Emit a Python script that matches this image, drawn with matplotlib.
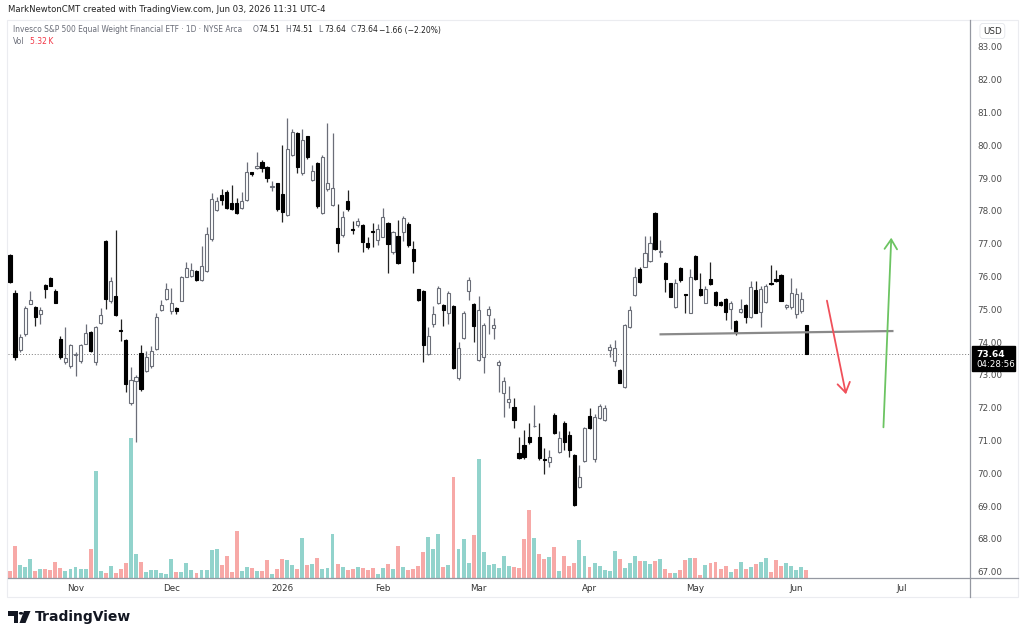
import numpy as np
import pandas as pd
import matplotlib
matplotlib.use('Agg')
import matplotlib.pyplot as plt
import matplotlib.transforms as mtransforms
from matplotlib.patches import Rectangle, Polygon, Circle
from matplotlib.lines import Line2D

plt.rcParams['font.family'] = ['DejaVu Sans']

# trading calendar (NYSE holidays in the window)
holidays = ['2025-11-27', '2025-12-25', '2026-01-01', '2026-01-19', '2026-02-16',
            '2026-04-03', '2026-05-25', '2026-06-19', '2026-07-03']
bday = pd.offsets.CustomBusinessDay(holidays=holidays)
dates = pd.date_range('2025-10-15', periods=200, freq=bday)

opens = [76.65, 75.50, 73.75, 74.25, 75.17, 75.08, 74.85, 75.74, 75.96, 75.57,
         74.10, 73.40, 73.27, 73.62, 73.42, 73.95, 74.30, 73.40, 74.60, 77.10,
         75.25, 75.42, 74.37, 74.08, 72.16, 72.83, 73.67, 73.13, 73.26, 73.79,
         74.98, 75.31, 74.95, 75.05, 75.27, 76.00, 76.02, 76.17, 75.90, 76.17,
         77.14, 78.03, 78.49, 78.59, 78.23, 78.23, 78.08, 78.34, 79.18, 79.30,
         79.50, 79.35, 78.74, 78.84, 78.53, 77.88, 79.71, 80.37, 79.15, 80.29,
         78.95, 79.47, 77.95, 78.66, 78.18, 77.47, 77.27, 78.30, 77.43, 77.57,
         77.57, 77.03, 77.37, 77.12, 77.22, 77.62, 76.76, 77.24, 77.37, 77.60,
         76.83, 75.61, 75.56, 73.64, 74.55, 75.19, 75.13, 74.88, 75.09, 72.90,
         74.12, 75.56, 75.16, 73.45, 73.56, 74.83, 74.43, 73.31, 72.46, 72.17,
         72.02, 70.61, 70.86, 71.10, 71.43, 71.10, 70.44, 70.36, 71.77, 70.66,
         71.53, 71.17, 70.55, 69.60, 70.39, 71.75, 70.45, 71.68, 71.63, 73.76,
         73.43, 73.15, 72.62, 74.46, 75.44, 76.22, 76.30, 76.48, 77.95, 76.75,
         76.42, 75.79, 75.06, 76.27, 75.45, 74.90, 76.63, 75.61, 75.20, 75.92,
         75.54, 75.23, 75.33, 75.00, 74.66, 74.92, 75.13, 74.76, 75.59, 74.93,
         75.23, 75.78, 75.94, 76.05, 75.06, 75.06, 74.86, 74.96, 74.51]
highs = [76.70, 75.60, 74.25, 75.10, 75.55, 75.10, 75.07, 75.76, 76.00, 75.62,
         74.20, 74.45, 73.95, 73.70, 73.95, 74.55, 74.35, 74.50, 75.05, 77.12,
         76.00, 77.42, 74.70, 74.10, 73.25, 73.00, 73.90, 73.73, 73.88, 74.90,
         75.30, 75.80, 75.66, 75.07, 76.02, 76.45, 76.40, 76.20, 76.93, 77.52,
         78.56, 78.44, 78.67, 78.65, 78.80, 78.40, 78.59, 79.50, 79.20, 79.80,
         79.55, 79.38, 78.90, 78.86, 80.00, 80.83, 80.50, 80.40, 80.50, 80.30,
         79.40, 79.50, 79.70, 80.68, 80.37, 78.21, 78.00, 78.64, 77.70, 77.80,
         77.60, 77.20, 77.64, 77.60, 78.08, 77.65, 77.40, 77.73, 77.85, 77.65,
         77.10, 75.62, 75.58, 74.47, 75.09, 75.72, 75.15, 75.55, 75.12, 74.00,
         74.95, 75.98, 75.20, 75.41, 74.60, 75.10, 74.73, 73.45, 72.95, 72.66,
         72.30, 71.12, 71.33, 71.53, 72.08, 71.53, 70.76, 70.70, 71.85, 71.30,
         71.60, 71.30, 70.60, 70.25, 71.40, 72.00, 71.80, 72.12, 72.10, 73.96,
         74.06, 73.18, 74.55, 75.09, 76.30, 76.30, 77.24, 77.24, 77.98, 77.11,
         76.45, 75.80, 75.92, 76.30, 75.46, 76.23, 76.65, 76.10, 75.72, 76.46,
         75.56, 75.25, 75.36, 75.25, 74.68, 75.31, 75.15, 75.88, 75.88, 75.70,
         75.76, 76.35, 76.20, 76.08, 75.16, 75.95, 75.65, 75.54, 74.51]
lows = [75.80, 73.45, 73.70, 74.20, 75.15, 74.50, 74.55, 75.35, 75.70, 75.18,
        73.50, 73.35, 73.20, 72.97, 73.38, 73.93, 73.70, 73.30, 74.55, 75.00,
        75.20, 74.80, 74.03, 72.48, 72.10, 70.95, 72.50, 73.10, 73.20, 73.75,
        74.95, 75.28, 74.85, 74.85, 75.25, 75.98, 75.98, 75.88, 75.88, 76.15,
        77.10, 78.00, 78.18, 78.05, 78.02, 77.92, 78.05, 78.30, 79.08, 79.28,
        79.20, 78.88, 78.62, 78.00, 77.67, 77.85, 79.68, 79.17, 79.10, 79.60,
        78.90, 78.10, 77.90, 78.60, 78.15, 76.76, 77.22, 78.00, 77.30, 77.52,
        76.76, 76.85, 76.91, 76.95, 77.20, 76.10, 76.70, 76.38, 77.10, 76.90,
        76.10, 75.27, 73.41, 73.60, 74.45, 75.15, 74.49, 74.55, 73.18, 72.85,
        74.10, 75.29, 74.02, 73.42, 73.05, 74.24, 74.10, 72.49, 71.73, 72.00,
        71.37, 70.44, 70.45, 70.90, 71.40, 70.40, 69.98, 70.20, 71.20, 70.62,
        70.72, 70.50, 69.02, 69.55, 70.35, 71.35, 70.35, 71.65, 71.60, 73.55,
        73.28, 72.75, 72.60, 74.42, 75.40, 75.82, 76.28, 76.45, 76.80, 76.60,
        75.54, 75.37, 75.03, 75.85, 74.90, 74.88, 75.90, 75.40, 75.18, 75.75,
        75.10, 75.10, 74.68, 74.39, 74.22, 74.90, 74.60, 74.74, 74.88, 74.47,
        75.20, 75.74, 75.85, 75.25, 75.02, 75.00, 74.73, 74.90, 73.64]
closes = [75.85, 73.55, 74.15, 75.05, 75.30, 74.78, 74.98, 75.62, 75.72, 75.20,
          73.55, 73.52, 73.90, 73.64, 73.90, 74.27, 73.73, 74.47, 74.82, 75.33,
          75.87, 74.83, 74.35, 72.72, 72.85, 72.95, 72.57, 73.56, 73.72, 74.78,
          75.13, 75.62, 75.19, 74.95, 76.00, 76.25, 76.20, 75.90, 76.33, 77.30,
          78.36, 78.29, 78.34, 78.08, 78.05, 77.95, 78.30, 79.20, 79.12, 79.36,
          79.30, 79.00, 78.76, 78.05, 77.97, 79.90, 80.42, 79.35, 80.16, 79.64,
          79.23, 78.15, 79.65, 78.86, 78.69, 77.02, 77.81, 78.05, 77.41, 77.71,
          77.07, 76.91, 77.35, 77.44, 77.83, 76.99, 77.37, 76.41, 77.78, 76.96,
          76.48, 75.29, 73.91, 74.20, 74.87, 75.64, 74.98, 75.51, 73.20, 73.81,
          74.90, 75.89, 74.49, 74.98, 74.53, 75.00, 74.53, 73.41, 72.83, 72.26,
          71.63, 70.46, 70.49, 70.97, 71.45, 70.46, 70.42, 70.49, 71.22, 71.07,
          70.97, 70.71, 69.04, 69.90, 71.37, 71.37, 71.73, 72.06, 71.99, 73.86,
          73.81, 72.77, 74.53, 74.97, 75.98, 75.84, 76.71, 77.03, 76.83, 76.77,
          75.92, 75.39, 75.79, 75.90, 75.43, 76.00, 75.92, 75.44, 75.61, 75.77,
          75.13, 75.13, 74.93, 75.20, 74.32, 75.00, 74.76, 75.69, 74.90, 75.61,
          75.71, 75.76, 75.87, 75.27, 75.13, 75.49, 75.47, 75.31, 73.64]
# volume in thousands of shares
volume_k = [4.7, 21.3, 8.6, 7.3, 12.6, 4.7, 6.0, 6.0, 5.3, 10.6,
            6.7, 4.7, 6.0, 7.3, 6.0, 6.0, 19.3, 71.2, 4.7, 3.3,
            8.0, 3.3, 6.0, 10.0, 93.1, 16.0, 10.6, 4.0, 5.3, 5.3,
            3.3, 2.7, 12.6, 4.0, 4.0, 10.0, 5.3, 3.3, 5.3, 5.3,
            18.6, 19.3, 8.6, 14.6, 4.0, 31.3, 4.7, 7.3, 6.7, 4.7,
            4.7, 12.0, 2.7, 6.0, 12.6, 12.0, 8.6, 6.0, 26.6, 8.6,
            9.3, 13.3, 6.0, 6.7, 29.3, 9.3, 7.3, 5.3, 6.0, 7.3,
            6.7, 5.3, 6.7, 2.7, 6.7, 9.3, 6.0, 21.3, 7.3, 5.3,
            6.0, 8.0, 17.3, 27.3, 19.3, 29.3, 7.3, 8.6, 67.2, 19.3,
            25.9, 10.0, 28.6, 79.1, 17.3, 8.6, 9.3, 6.7, 14.6, 8.0,
            7.3, 6.7, 25.9, 45.2, 26.6, 16.0, 12.6, 14.0, 20.6, 4.7,
            14.6, 8.0, 10.0, 25.3, 14.6, 7.3, 10.0, 8.0, 5.3, 4.7,
            18.0, 12.6, 6.7, 10.0, 14.6, 11.3, 11.3, 9.3, 11.3, 12.6,
            6.0, 3.3, 3.3, 5.3, 12.0, 13.3, 13.3, 2.0, 8.6, 10.0,
            10.6, 6.0, 8.0, 4.0, 6.0, 10.6, 6.0, 7.3, 9.3, 10.6,
            13.3, 4.0, 12.0, 8.0, 10.0, 8.0, 5.3, 7.0, 5.32]

last_price = 73.64
# drawings on the chart: (bar index, price) endpoints
support_line = [(129.1, 74.24), (175.1, 74.34)]
red_arrow = [(162.0, 75.35), (166.0, 72.33)]
green_arrow = [(173.3, 71.32), (174.9, 77.27)]

W, H = 1024, 639
fig = plt.figure(figsize=(W / 100, H / 100), dpi=100)
fig.patch.set_facecolor('white')

def fx(px):
    return px / W

def fy(py):
    return 1 - py / H

rect = [fx(8), fy(578), fx(970) - fx(8), fy(20) - fy(578)]
ax_vol = fig.add_axes(rect)
ax = fig.add_axes(rect, sharex=ax_vol)
ax.set_zorder(2)
ax.patch.set_visible(False)

n = len(closes)
x = np.arange(n)
o = np.array(opens)
c = np.array(closes)
h = np.array(highs)
l = np.array(lows)
up = c >= o

# volume
vol_colors = np.where(up, '#92d3cc', '#f7a9a7')
ax_vol.bar(x, volume_k, width=0.78, color=vol_colors, linewidth=0)
ax_vol.set_ylim(0, 371)
ax_vol.axis('off')

# candles
ax.vlines(x[up], l[up], h[up], color='#6b6e78', linewidth=0.9, zorder=2)
ax.vlines(x[~up], l[~up], h[~up], color='#222222', linewidth=0.9, zorder=2)
body_bottom = np.minimum(o, c)
body_h = np.maximum(np.abs(c - o), 0.03)
ax.bar(x[up], body_h[up], bottom=body_bottom[up], width=0.62,
       color='white', edgecolor='#6b6e78', linewidth=0.8, zorder=3)
ax.bar(x[~up], body_h[~up], bottom=body_bottom[~up], width=0.62,
       color='black', edgecolor='black', linewidth=0.8, zorder=3)

# last price dotted line
ax.axhline(last_price, color='#777777', linestyle=(0, (1, 2)), linewidth=0.7, zorder=1)

# drawings
(sx0, sy0), (sx1, sy1) = support_line
ax.plot([sx0, sx1], [sy0, sy1], color='#8a8a8a', linewidth=1.6, zorder=4)
ax.annotate('', xy=red_arrow[1], xytext=red_arrow[0],
            arrowprops=dict(arrowstyle='->,head_length=0.7,head_width=0.45',
                            color='#f0505a', linewidth=1.3), zorder=4)
ax.annotate('', xy=green_arrow[1], xytext=green_arrow[0],
            arrowprops=dict(arrowstyle='->,head_length=0.7,head_width=0.45',
                            color='#6cc462', linewidth=1.3), zorder=4)

# axes limits / ticks
ax.set_xlim(-0.4, 190.5)
ax.set_ylim(83 - 531 / 32.8, 83 + 27 / 32.8)
for s in ax.spines.values():
    s.set_visible(False)

yt = np.arange(67, 84)
ax.yaxis.tick_right()
ax.set_yticks(yt)
ax.set_yticklabels(['%.2f' % v for v in yt])
ax.tick_params(axis='y', length=0, pad=5, labelsize=6.3, labelcolor='#4a4a4a')

idx = pd.Series(np.arange(len(dates)), index=dates)
firsts = idx.groupby([dates.year, dates.month]).first()
month_pos, month_lab = [], []
for (yr, mo), i0 in firsts.items():
    if (yr, mo) == (2025, 10) or i0 > 190:
        continue
    month_pos.append(i0)
    month_lab.append(str(yr) if mo == 1 else dates[i0].strftime('%b'))
ax.set_xticks(month_pos)
ax.set_xticklabels(month_lab)
ax.tick_params(axis='x', length=0, pad=4, labelsize=6.3, labelcolor='#333333')

# frame lines
fig.add_artist(Rectangle((fx(7), fy(597)), fx(1018) - fx(7), fy(20) - fy(597),
                         transform=fig.transFigure, fill=False, edgecolor='#ebecf0', linewidth=0.8))
fig.add_artist(Line2D([fx(970), fx(970)], [fy(20), fy(597)], transform=fig.transFigure,
                      color='#9598a1', linewidth=0.9))
fig.add_artist(Line2D([fx(8), fx(1018)], [fy(578), fy(578)], transform=fig.transFigure,
                      color='#9598a1', linewidth=0.9))

# last price label on the axis
trans = mtransforms.blended_transform_factory(ax.transAxes, ax.transData)
ax.add_patch(Rectangle((1.002, last_price - 0.52), 0.0445, 0.76, transform=trans,
                       facecolor='black', edgecolor='black', clip_on=False, zorder=10))
ax.text(1.0065, last_price - 0.02, '%.2f' % last_price, transform=trans, color='white',
        fontsize=6.5, fontweight='bold', va='center', ha='left', zorder=11)
ax.text(1.0065, last_price - 0.33, '04:28:56', transform=trans, color='white',
        fontsize=6.2, va='center', ha='left', zorder=11)

# USD box
fig.text(fx(983), fy(31), 'USD', fontsize=6.3, color='#333333', va='center', ha='left',
         bbox=dict(boxstyle='round,pad=0.35', facecolor='white', edgecolor='#e3e5ea', linewidth=0.6))

# header and legend
fig.text(fx(8), fy(9), 'MarkNewtonCMT created with TradingView.com, Jun 03, 2026 11:31 UTC-4',
         fontsize=6.15, color='#222222', va='center', ha='left')
fig.text(fx(13), fy(30), 'Invesco S&P 500 Equal Weight Financial ETF \u00b7 1D \u00b7 NYSE Arca',
         fontsize=5.45, color='#6a6d78', va='center', ha='left')
ohlc = [('O', '74.51'), ('H', '74.51'), ('L', '73.64'), ('C', '73.64')]
xp = 253
for lab, val in ohlc:
    fig.text(fx(xp), fy(30), lab, fontsize=5.5, color='#6a6d78', va='center', ha='left')
    fig.text(fx(xp + 5.5), fy(30), val, fontsize=5.5, color='#222222', va='center', ha='left')
    xp += 32.7
fig.text(fx(379), fy(30), '\u22121.66 (\u22122.20%)', fontsize=5.5, color='#222222',
         va='center', ha='left')
fig.text(fx(13), fy(42), 'Vol', fontsize=5.5, color='#6a6d78', va='center', ha='left')
fig.text(fx(30), fy(42), '5.32\u2009K', fontsize=5.5, color='#f23645', va='center', ha='left')

# footer logo (simple TradingView mark)
logo_parts = [
    [(8, 611), (18, 611), (18, 623), (13.5, 623), (13.5, 615.5), (8, 615.5)],
    [(24, 611), (30.5, 611), (25.5, 623), (19.5, 623)],
]
for pts in logo_parts:
    fig.add_artist(Polygon([(fx(px), fy(py)) for px, py in pts], closed=True,
                           transform=fig.transFigure, facecolor='#131722', edgecolor='none'))
fig.add_artist(Circle((fx(21), fy(613.3)), 2.2 / W, transform=fig.transFigure,
                      facecolor='#131722', edgecolor='none'))
fig.text(fx(35), fy(617), 'TradingView', fontsize=10, fontweight='bold', color='#131722',
         va='center', ha='left')

fig.savefig('out.png', dpi=100, facecolor='white')
